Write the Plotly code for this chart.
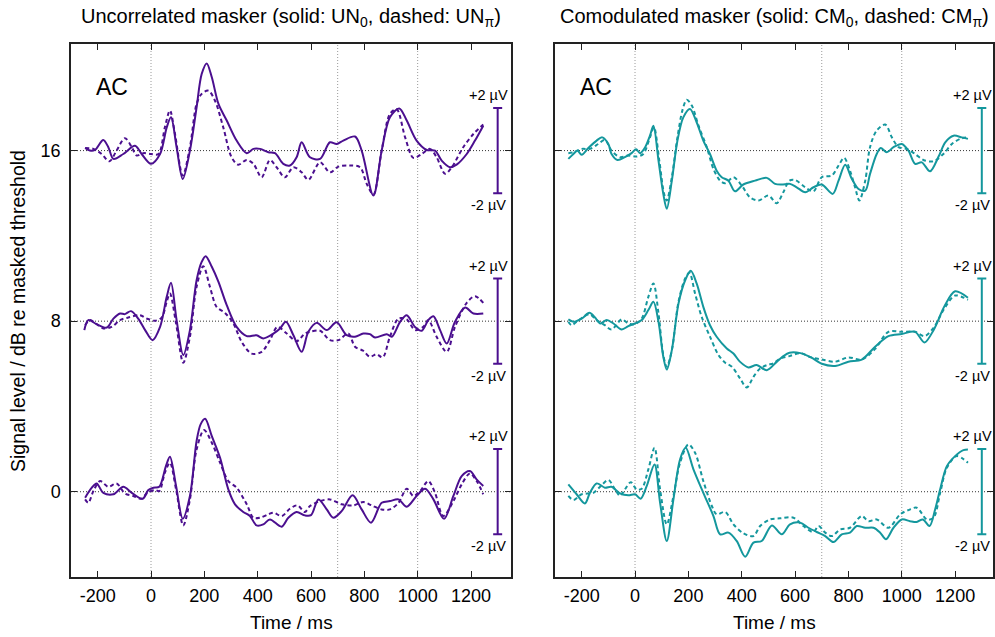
import plotly.graph_objects as go

# ---------------- data (µV relative to each row's baseline) ----------------
ROW_OFFSETS = [16, 8, 0]          # dB re masked threshold
SCALE_T = 1300                    # time of the scale bar (ms)
SCALE_UV = 2                      # half-length of scale bar (µV)
X_TICKS = [-200, 0, 200, 400, 600, 800, 1000, 1200]
X_TICK_TEXT = ["-200", "0", "200", "400", "600", "800", "1000", "1200"]
Y_TICKS = [0, 8, 16]
Y_TICK_TEXT = ["0", "8", "16"]
V_GRID = [0, 700, 1000]

# Uncorrelated masker, row 16
UN0_16_T = [-247, -229, -210, -179, -160, -141, -104, -60, -35, 0, 34, 59, 75, 96, 119, 146, 171, 190, 209, 228, 253, 284, 321, 359, 384, 409, 440, 465, 496, 521, 546, 565, 596, 634, 671, 696, 721, 765, 790, 834, 865, 896, 931, 959, 996, 1034, 1065, 1090, 1121, 1146, 1184, 1215, 1246]
UN0_16_V = [0.12, 0, 0.03, 0.5, 0.16, -0.39, -0.16, 0.23, -0.16, -0.62, -0.16, 1.09, 1.56, 0.16, -1.33, 0, 2.03, 3.59, 4.09, 3.44, 2.19, 1.41, 0.47, -0.12, 0.08, 0.08, -0.08, -0.12, -0.62, -0.7, -0.31, 0.39, -0.31, -0.39, 0.39, 0.31, 0.47, 0.66, 0, -2.11, 0, 1.56, 1.98, 1.41, 0.47, 0.03, 0, -0.47, -0.78, -0.66, -0.16, 0.47, 1.17]
UNP_16_T = [-247, -216, -185, -156, -129, -98, -72, -54, -29, 0, 28, 52, 71, 90, 119, 146, 171, 190, 215, 240, 271, 302, 327, 359, 384, 415, 446, 471, 502, 534, 565, 590, 634, 671, 703, 746, 784, 809, 834, 865, 896, 921, 953, 984, 1015, 1046, 1071, 1103, 1128, 1171, 1209, 1246]
UNP_16_V = [0.12, 0.08, -0.16, -0.5, 0, 0.58, 0.16, -0.23, -0.12, -0.16, -0.16, 1.09, 1.88, 0.78, -1.17, 0.16, 2.19, 2.66, 2.81, 2.34, 1.09, -0.31, -0.66, -0.44, -0.62, -1.25, -0.44, -0.78, -1.25, -0.78, -1.02, -1.37, -0.55, -1.02, -0.75, -0.7, -0.78, -1.56, -2.06, 0, 1.72, 1.95, 0.62, -0.34, -0.16, 0.08, -0.31, -1.09, -0.78, 0.16, 0.78, 1.22]

# Uncorrelated masker, row 8
UN0_8_T = [-250, -235, -204, -166, -141, -116, -98, -75, -48, -22, 6, 34, 59, 75, 96, 121, 146, 171, 190, 205, 228, 253, 284, 321, 359, 396, 421, 459, 484, 506, 534, 565, 590, 621, 659, 696, 734, 765, 796, 821, 840, 884, 903, 934, 959, 990, 1015, 1040, 1059, 1084, 1109, 1140, 1178, 1209, 1246]
UN0_8_V = [-0.42, 0.05, -0.14, -0.3, 0.12, 0.36, 0.33, 0.47, 0.12, -0.42, -0.89, -0.27, 1.14, 1.8, 0.05, -1.59, -0.42, 1.92, 2.78, 3.05, 2.55, 1.84, 0.75, -0.27, -0.7, -0.66, -0.81, -0.58, -0.34, -0.03, -0.66, -1.44, -0.5, -0.08, -0.42, -0.05, -0.66, -0.73, -0.58, -0.61, -0.77, -0.61, -0.73, -0.03, 0.28, -0.27, -0.45, 0.05, 0.23, -0.42, -1.05, -0.03, 0.64, 0.36, 0.36]
UNP_8_T = [-247, -229, -204, -179, -148, -116, -85, -41, -16, 15, 40, 59, 71, 94, 121, 146, 171, 196, 221, 246, 277, 309, 340, 377, 415, 446, 474, 509, 546, 577, 596, 634, 671, 703, 740, 765, 796, 821, 846, 869, 896, 928, 959, 990, 1021, 1040, 1071, 1109, 1140, 1184, 1215, 1246]
UNP_8_V = [-0.19, 0.05, -0.14, -0.34, -0.27, 0.05, 0.17, 0.28, 0.12, 0.02, 0.17, 0.91, 1.3, -0.11, -1.95, -0.73, 1.61, 2.58, 1.61, 0.67, 0.39, -0.11, -0.97, -1.52, -1.44, -0.89, -0.27, -0.58, -0.94, -0.58, -0.5, -0.45, -0.89, -0.89, -0.58, -1.2, -1.39, -1.67, -1.55, -1.7, -0.73, 0.12, 0.08, -0.42, -0.27, 0.05, -0.73, -1.44, -0.27, 0.86, 1.17, 0.86]

# Uncorrelated masker, row 0
UN0_0_T = [-247, -222, -204, -179, -141, -104, -72, -31, -10, 9, 31, 56, 71, 94, 119, 146, 171, 186, 203, 228, 259, 290, 315, 346, 371, 396, 421, 446, 490, 515, 546, 577, 600, 628, 659, 684, 715, 756, 790, 825, 865, 896, 928, 959, 996, 1028, 1059, 1099, 1134, 1165, 1196, 1221, 1246]
UN0_0_V = [-0.28, 0.19, 0.39, -0.05, -0.12, 0.23, -0.05, -0.33, 0.08, 0.19, 0.23, 1.2, 1.64, 0.27, -1.27, -0.2, 2.38, 3.16, 3.42, 2.61, 1.59, 0.11, -0.59, -0.95, -1.14, -1.58, -1.53, -1.3, -1.64, -1.22, -0.95, -1.11, -1.1, -0.36, -0.83, -1.22, -0.91, -0.17, -0.83, -1.45, -0.52, -0.44, -0.36, -0.7, -0.2, 0.14, -0.36, -1.27, -0.2, 0.73, 0.97, 0.58, 0.27]
UNP_0_T = [-247, -235, -216, -191, -160, -129, -98, -66, -35, -14, 15, 31, 52, 71, 94, 121, 146, 171, 199, 228, 259, 290, 321, 359, 384, 409, 440, 459, 490, 521, 549, 577, 596, 634, 671, 715, 759, 796, 827, 865, 896, 928, 959, 984, 1009, 1040, 1065, 1096, 1134, 1165, 1196, 1221, 1246]
UNP_0_V = [-0.36, -0.52, 0.03, 0.5, 0.23, 0.39, -0.08, -0.2, -0.33, -0.05, 0.08, 0.03, 0.89, 1.36, 0.11, -1.58, -0.36, 1.98, 2.89, 2.3, 1.36, 0.5, 0.19, -0.59, -1.22, -1.22, -1.06, -0.98, -1.14, -0.8, -0.64, -0.95, -0.67, -0.44, -0.36, -0.59, -0.64, -0.48, -0.64, -0.83, -0.83, -0.52, 0.14, -0.2, 0.03, 0.5, -0.05, -1.14, -0.44, 0.34, 0.86, 0.5, -0.12]

# Comodulated masker, row 16
CM0_16_T = [-250, -231, -216, -200, -175, -144, -123, -100, -88, -66, -38, -13, 4, 19, 38, 56, 69, 88, 106, 119, 138, 159, 181, 206, 231, 256, 281, 306, 325, 350, 375, 406, 450, 494, 525, 550, 581, 606, 638, 669, 700, 741, 763, 788, 813, 838, 863, 881, 906, 921, 944, 969, 1000, 1025, 1050, 1075, 1106, 1138, 1163, 1194, 1225, 1248]
CM0_16_V = [-0.39, -0.16, 0, -0.19, 0.12, 0.47, 0.62, 0.31, -0.16, -0.44, -0.31, -0.12, 0.06, -0.12, 0.16, 0.7, 1.17, -0.47, -2.03, -2.73, -1.41, 0.47, 1.56, 1.95, 1.33, 0.47, -0.16, -0.94, -1.25, -1.41, -1.91, -1.59, -1.41, -1.28, -1.56, -1.59, -1.56, -1.72, -1.95, -1.72, -1.59, -2.03, -1.41, -0.66, -1.33, -1.8, -1.88, -1.09, -0.16, 0.12, -0.08, 0.16, 0.31, 0, -0.62, -0.55, -0.97, -0.28, 0.39, 0.7, 0.62, 0.55]
CMP_16_T = [-250, -231, -200, -169, -138, -113, -88, -56, -25, 6, 31, 56, 71, 91, 109, 119, 138, 159, 179, 194, 213, 238, 269, 294, 319, 338, 369, 400, 431, 463, 500, 531, 556, 579, 600, 638, 669, 700, 738, 763, 784, 806, 825, 841, 863, 881, 906, 938, 963, 988, 1019, 1050, 1081, 1119, 1156, 1188, 1219, 1248]
CMP_16_V = [-0.12, -0.08, 0.08, 0.08, 0.31, 0.5, 0, -0.31, -0.23, -0.28, -0.16, 0.62, 1.09, -0.47, -2.03, -2.34, -1.25, 0.62, 1.95, 2.38, 2.11, 1.17, 0.16, -0.86, -1.41, -1.53, -1.25, -1.64, -2.19, -2.34, -2.11, -2.47, -1.95, -1.41, -1.38, -1.72, -1.91, -1.25, -1.17, -0.7, -0.34, -0.94, -1.72, -2.34, -1.41, 0.16, 0.94, 1.22, 0.62, 0.16, 0.08, -0.16, -0.44, -0.5, -0.16, 0.31, 0.55, 0.62]

# Comodulated masker, row 8
CM0_8_T = [-250, -231, -200, -171, -150, -131, -106, -81, -50, -25, 0, 25, 50, 69, 88, 106, 119, 138, 163, 188, 209, 231, 256, 281, 306, 344, 369, 394, 425, 456, 494, 531, 556, 579, 620, 660, 700, 750, 800, 850, 900, 950, 1000, 1050, 1085, 1120, 1160, 1200, 1248]
CM0_8_V = [0.08, -0.03, 0.12, 0.39, 0.17, -0.11, 0.05, -0.11, -0.39, -0.23, -0.11, 0.05, 0.52, 0.91, -0.03, -1.67, -2.27, -1.36, 0.83, 1.92, 2.36, 1.77, 0.67, -0.19, -0.73, -1.28, -1.52, -1.91, -2.17, -2.06, -2.3, -1.91, -1.64, -1.48, -1.5, -1.7, -2.0, -2.1, -1.9, -1.8, -1.2, -0.7, -0.6, -0.5, -1.0, -0.4, 0.7, 1.4, 1.1]
CMP_8_T = [-250, -238, -219, -194, -171, -144, -113, -88, -50, -25, 0, 25, 50, 69, 88, 106, 119, 138, 163, 188, 204, 225, 250, 281, 313, 338, 363, 394, 419, 444, 469, 494, 519, 544, 579, 620, 660, 700, 750, 800, 850, 900, 950, 1000, 1050, 1085, 1120, 1160, 1200, 1248]
CMP_8_V = [-0.03, -0.19, -0.03, 0.2, 0.33, 0.05, -0.19, -0.39, 0.08, -0.11, -0.14, 0.12, 1.14, 1.77, 0.36, -1.59, -2.14, -1.36, 0.91, 2.0, 2.27, 1.3, 0.2, -0.73, -1.59, -1.95, -2.14, -2.69, -3.11, -2.61, -2.22, -2.06, -1.98, -1.75, -1.64, -1.5, -1.7, -1.8, -1.9, -1.7, -1.8, -1.3, -0.5, -0.5, -0.5, -0.7, -0.3, 0.6, 1.2, 1.0]

# Comodulated masker, row 0
CM0_0_T = [-250, -219, -188, -169, -144, -113, -88, -56, -25, 0, 21, 44, 73, 94, 119, 144, 169, 190, 219, 256, 294, 319, 350, 381, 413, 444, 475, 513, 550, 581, 619, 650, 681, 713, 744, 775, 806, 831, 863, 894, 919, 941, 969, 1000, 1031, 1056, 1079, 1104, 1125, 1144, 1169, 1200, 1231, 1248]
CM0_0_V = [0.34, -0.12, -0.55, -0.05, 0.39, 0.19, 0.23, -0.08, -0.17, -0.12, -0.33, 0.27, 1.28, -0.52, -2.31, -0.36, 1.52, 2.06, 1.05, -0.05, -1.14, -2.0, -1.92, -2.31, -3.05, -2.39, -2.31, -1.58, -2.0, -1.53, -1.45, -1.69, -1.89, -2.08, -2.36, -2.0, -1.92, -1.61, -1.69, -1.69, -1.92, -2.23, -1.69, -1.3, -1.38, -1.42, -1.3, -1.61, -0.83, 0.11, 1.2, 1.67, 1.95, 1.98]
CMP_0_T = [-250, -231, -200, -156, -131, -100, -75, -56, -38, -16, 6, 25, 50, 73, 94, 119, 144, 169, 200, 225, 256, 288, 306, 338, 369, 406, 444, 469, 506, 544, 594, 631, 669, 688, 713, 738, 769, 806, 850, 875, 906, 950, 994, 1025, 1056, 1094, 1119, 1144, 1169, 1206, 1248]
CMP_0_V = [-0.2, -0.39, -0.12, -0.05, 0.23, 0.55, 0.11, -0.2, 0.11, 0.45, 0.11, 0.14, 1.05, 2.06, 0.11, -1.53, -0.2, 1.36, 2.22, 1.83, 0.5, -0.67, -1.06, -0.95, -1.53, -1.95, -2.08, -1.61, -1.3, -1.25, -1.22, -1.61, -1.89, -1.61, -1.92, -2.08, -1.77, -1.69, -1.14, -1.38, -1.3, -1.69, -1.06, -0.86, -0.75, -1.3, -1.22, -0.05, 1.12, 1.67, 1.36]

PURPLE = "#4b0f8f"
TEAL = "#14979d"
FONT = "Liberation Sans, Arial, Helvetica, sans-serif"

panels = [
    dict(xa="x", ya="y", color=PURPLE,
         rows=[(UN0_16_T, UN0_16_V, UNP_16_T, UNP_16_V),
               (UN0_8_T, UN0_8_V, UNP_8_T, UNP_8_V),
               (UN0_0_T, UN0_0_V, UNP_0_T, UNP_0_V)]),
    dict(xa="x2", ya="y2", color=TEAL,
         rows=[(CM0_16_T, CM0_16_V, CMP_16_T, CMP_16_V),
               (CM0_8_T, CM0_8_V, CMP_8_T, CMP_8_V),
               (CM0_0_T, CM0_0_V, CMP_0_T, CMP_0_V)]),
]

fig = go.Figure()
for p in panels:
    for off, (t0, v0, tp, vp) in zip(ROW_OFFSETS, p["rows"]):
        fig.add_trace(go.Scatter(x=tp, y=[off + v for v in vp], mode="lines",
                                 xaxis=p["xa"], yaxis=p["ya"], showlegend=False,
                                 line=dict(color=p["color"], width=2, dash="4px,3px",
                                           shape="spline", smoothing=0.9)))
        fig.add_trace(go.Scatter(x=t0, y=[off + v for v in v0], mode="lines",
                                 xaxis=p["xa"], yaxis=p["ya"], showlegend=False,
                                 line=dict(color=p["color"], width=2,
                                           shape="spline", smoothing=0.9)))
        # scale bar
        fig.add_trace(go.Scatter(x=[SCALE_T], y=[off], mode="markers",
                                 xaxis=p["xa"], yaxis=p["ya"], showlegend=False,
                                 marker=dict(size=1, color="rgba(0,0,0,0)"),
                                 error_y=dict(type="data", array=[SCALE_UV], symmetric=True,
                                              color=p["color"], thickness=2, width=4.5)))

# geometry (pixels -> paper)
W, H = 995, 637
def px(x):
    return x / W
def py(y):
    return 1 - y / H

ydom = [py(577), py(44)]
axis_common = dict(ticks="inside", ticklen=6, tickwidth=1, tickcolor="#222",
                   showline=True, linecolor="#222", linewidth=1.5, mirror="ticks",
                   showgrid=False, zeroline=False,
                   tickfont=dict(family=FONT, size=18, color="black"))

fig.update_layout(
    width=W, height=H, margin=dict(l=0, r=0, t=0, b=0),
    paper_bgcolor="white", plot_bgcolor="white",
    font=dict(family=FONT, color="black"),
    xaxis=dict(domain=[px(71), px(511)], range=[-300, 1350], tickvals=X_TICKS,
               ticktext=X_TICK_TEXT, ticklabelstandoff=2, anchor="y", **axis_common),
    yaxis=dict(domain=ydom, range=[-4, 21], tickvals=Y_TICKS, ticktext=Y_TICK_TEXT,
               ticklabelstandoff=5, anchor="x", **axis_common),
    xaxis2=dict(domain=[px(555), px(993)], range=[-300, 1342], tickvals=X_TICKS,
                ticktext=X_TICK_TEXT, ticklabelstandoff=2, anchor="y2", **axis_common),
    yaxis2=dict(domain=ydom, range=[-4, 21], tickvals=Y_TICKS, anchor="x2",
                showticklabels=False, **axis_common),
)

shapes = []
annotations = []
for xa, ya in [("x", "y"), ("x2", "y2")]:
    for g in V_GRID:
        shapes.append(dict(type="line", xref=xa, yref=ya + " domain", x0=g, x1=g, y0=0, y1=1,
                           line=dict(color="#9a9a9a", width=1, dash="1px,2px"), layer="below"))
    for off in ROW_OFFSETS:
        shapes.append(dict(type="line", xref=xa + " domain", yref=ya, x0=0, x1=1, y0=off, y1=off,
                           line=dict(color="#333", width=1, dash="1px,2px"), layer="below"))
        annotations.append(dict(xref=xa, yref=ya, x=SCALE_T, y=off + SCALE_UV, yshift=13, xshift=-9,
                                xanchor="center", yanchor="middle",
                                text="+2 \u00b5V", showarrow=False,
                                font=dict(family=FONT, size=14.5, color="black")))
        annotations.append(dict(xref=xa, yref=ya, x=SCALE_T, y=off - SCALE_UV, yshift=-12, xshift=-9,
                                xanchor="center", yanchor="middle",
                                text="-2 \u00b5V", showarrow=False,
                                font=dict(family=FONT, size=14.5, color="black")))
    annotations.append(dict(xref=xa, yref=ya, x=-148, y=19, text="AC", showarrow=False,
                            xanchor="center", yanchor="middle",
                            font=dict(family=FONT, size=23, color="black")))

annotations += [
    dict(xref="paper", yref="paper", x=px(291), y=py(18), xanchor="center", yanchor="middle",
         text="Uncorrelated masker (solid: UN<sub>0</sub>, dashed: UN<sub>\u03c0</sub>)",
         showarrow=False, font=dict(family=FONT, size=20)),
    dict(xref="paper", yref="paper", x=px(774), y=py(18), xanchor="center", yanchor="middle",
         text="Comodulated masker (solid: CM<sub>0</sub>, dashed: CM<sub>\u03c0</sub>)",
         showarrow=False, font=dict(family=FONT, size=20)),
    dict(xref="paper", yref="paper", x=px(291), y=py(622), xanchor="center", yanchor="middle",
         text="Time / ms", showarrow=False, font=dict(family=FONT, size=19)),
    dict(xref="paper", yref="paper", x=px(774), y=py(622), xanchor="center", yanchor="middle",
         text="Time / ms", showarrow=False, font=dict(family=FONT, size=19)),
    dict(xref="paper", yref="paper", x=px(18), y=py(311), xanchor="center", yanchor="middle",
         text="Signal level / dB re masked threshold",
         textangle=-90, showarrow=False, font=dict(family=FONT, size=19.5)),
]
fig.update_layout(shapes=shapes, annotations=annotations)

fig.write_html("out.html")
